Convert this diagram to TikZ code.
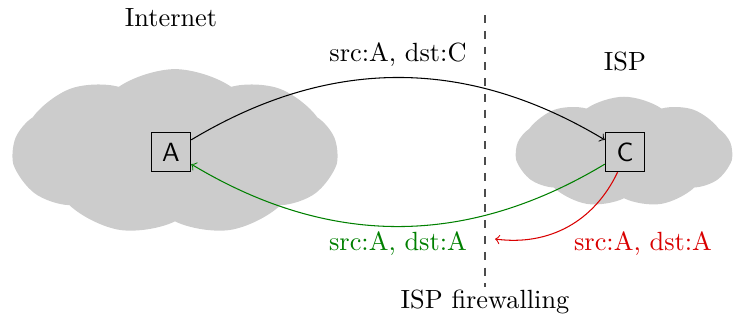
\documentclass[tikz,border=0pt]{standalone}
\usetikzlibrary{shapes.symbols}
\begin{document}
\begin{tikzpicture}[x=0.38pt,y=-0.38pt,
  net/.style={cloud, cloud puffs=9, cloud puff arc=70, aspect=2, fill=gray!40, draw=none, inner sep=0pt},
  host/.style={draw, thin, minimum size=15pt, inner sep=1pt, font=\sffamily},
  lbl/.style={inner sep=0pt},
  every to/.style={bend left=31}]
  \useasboundingbox (0,0) rectangle (733,320);

  % networks
  \node[net, minimum width=123pt, minimum height=63pt] (inet) at (175,152) {};
  \node[net, minimum width=82pt, minimum height=42pt] (isp) at (624,152) {};

  % firewall boundary
  \coordinate (fwtop) at (485,15);
  \coordinate (fwbot) at (485,287);
  \draw[dashed, thin, black!70] (fwtop) -- (fwbot);

  % hosts
  \node[host] (A) at (171,152) {A};
  \node[host] (C) at (625,152) {C};

  % captions
  \node[lbl] (tinet) at (171,18) {Internet};
  \node[lbl] (tisp) at (625,62) {ISP};
  \node[lbl] (tfw) at (485,302) {ISP firewalling};

  % packet paths
  \coordinate (drop) at (495,239);
  \draw[->] (A) to (C);
  \draw[->, green!50!black] (C) to (A);
  \draw[->, red!85!black] (C) to[bend left=36] (drop);

  % packet labels
  \node[lbl] (l1) at (398,55) {src:A, dst:C};
  \node[lbl, text=green!50!black] (l2) at (398,244) {src:A, dst:A};
  \node[lbl, text=red!85!black] (l3) at (643,244) {src:A, dst:A};
\end{tikzpicture}
\end{document}
